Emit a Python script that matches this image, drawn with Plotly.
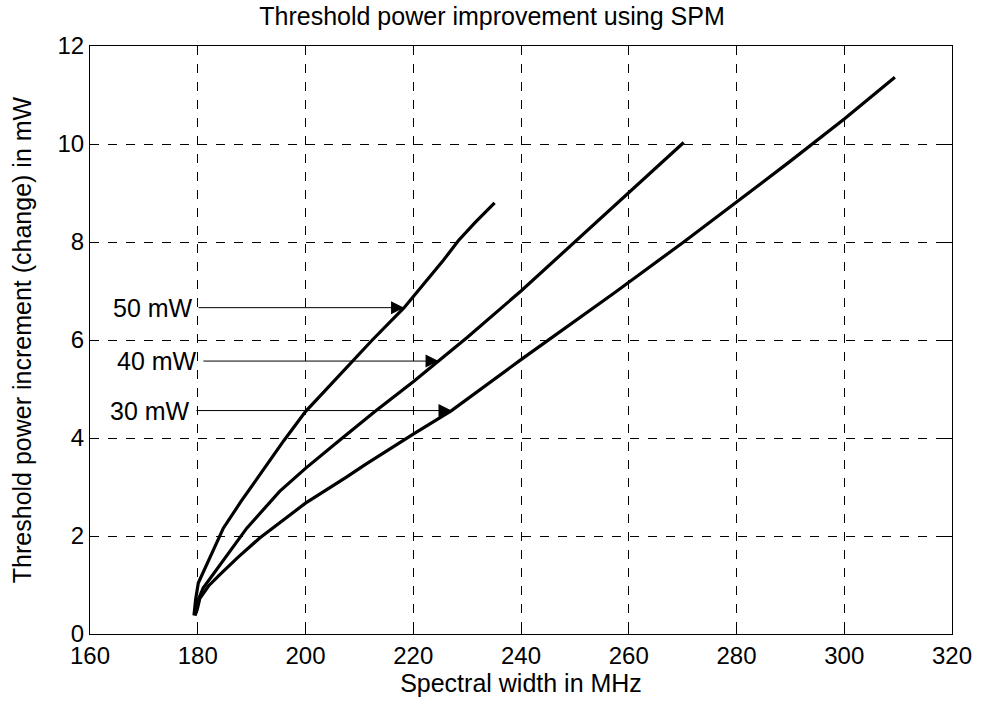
import plotly.graph_objects as go

# Spectral width (MHz) and threshold power increment (mW) for each input power
x_50 = [179.3, 179.6, 180.1, 182.5, 184.75, 188.0, 191.5, 196.0, 200.0, 206.0,
        212.4, 218.3, 222.0, 225.4, 228.4, 231.5, 235.1]
y_50 = [0.38, 0.7, 1.04, 1.6, 2.16, 2.7, 3.25, 3.95, 4.54, 5.25,
        6.0, 6.66, 7.15, 7.6, 8.03, 8.4, 8.8]

x_40 = [179.4, 179.9, 181.0, 184.1, 189.1, 195.2, 200.0, 206.5, 213.0, 220.0,
        224.7, 230.0, 240.0, 250.0, 255.4, 260.0, 265.0, 270.2]
y_40 = [0.38, 0.65, 0.94, 1.41, 2.16, 2.91, 3.38, 3.97, 4.55, 5.15,
        5.57, 6.05, 7.0, 8.0, 8.54, 9.0, 9.5, 10.03]

x_30 = [179.5, 179.9, 180.4, 182.0, 184.1, 187.5, 191.5, 200.0, 207.6, 211.0,
        220.0, 227.1, 240.0, 247.0, 257.3, 270.2, 280.0, 290.0, 300.0, 309.4]
y_30 = [0.38, 0.5, 0.73, 0.98, 1.21, 1.57, 1.96, 2.67, 3.2, 3.45,
        4.08, 4.56, 5.6, 6.15, 6.96, 8.0, 8.81, 9.65, 10.51, 11.36]

# Arrow labels: text, arrow tail x, arrow tip (x, y)
labels = ["50 mW", "40 mW", "30 mW"]
tail_x = [179.4, 180.3, 179.0]
tip_x = [218.3, 224.7, 227.1]
tip_y = [6.66, 5.57, 4.56]

fig = go.Figure()
for xs, ys in [(x_50, y_50), (x_40, y_40), (x_30, y_30)]:
    fig.add_trace(go.Scatter(x=xs, y=ys, mode="lines",
                             line=dict(color="black", width=3.2),
                             showlegend=False))

for txt, tx, px, py in zip(labels, tail_x, tip_x, tip_y):
    fig.add_annotation(x=px, y=py, ax=tx, ay=py, xref="x", yref="y",
                       axref="x", ayref="y", text=txt, xanchor="right",
                       showarrow=True, arrowhead=2, arrowsize=2.6,
                       arrowwidth=1, arrowcolor="black", startstandoff=4,
                       font=dict(size=25, color="black"))

axis_common = dict(showline=True, linecolor="black", linewidth=1,
                   mirror="allticks", ticks="inside", ticklen=8,
                   tickcolor="black", showgrid=True, gridcolor="black",
                   griddash="dash", gridwidth=1, zeroline=False,
                   tickfont=dict(size=24, color="black"))

fig.update_xaxes(range=[160, 320], tickvals=list(range(160, 321, 20)),
                 title=dict(text="Spectral width in MHz", standoff=5,
                            font=dict(size=25, color="black")),
                 **axis_common)
fig.update_yaxes(range=[0, 12], tickvals=list(range(0, 13, 2)),
                 title=dict(text="Threshold power increment (change) in mW",
                            standoff=18, font=dict(size=25, color="black")),
                 **axis_common)

fig.update_layout(
    width=984, height=706,
    margin=dict(l=90, r=29, t=46, b=72),
    paper_bgcolor="white", plot_bgcolor="white",
    font=dict(family="Liberation Sans, Arial, sans-serif", color="black"),
    title=dict(text="Threshold power improvement using SPM",
               x=0.5, xanchor="center", y=0.977, yanchor="middle",
               font=dict(size=25, color="black")),
)

fig.write_html("out.html")
